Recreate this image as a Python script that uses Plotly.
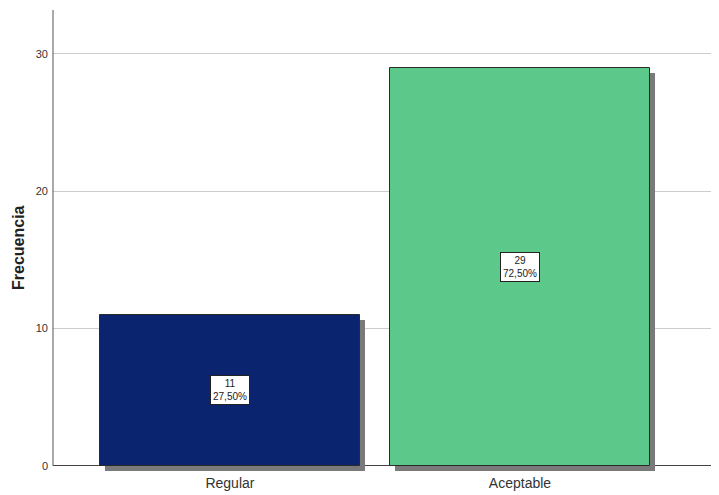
import plotly.graph_objects as go

categories = ["Regular", "Aceptable"]
frecuencias = [11, 29]
porcentajes = ["27,50%", "72,50%"]
colores = ["#0B2470", "#5CC98A"]
y_ticks = [0, 10, 20, 30]

x_pos = list(range(len(categories)))
# the page body has an 8px margin, so the figure is sized to fit the window
W, H = 711, 487
ml, mr, mt, mb = 45, 0, 2, 23
ymax = 33.2
ymin = -0.45
plot_h = H - mt - mb
plot_w = W - ml - mr
xr = [-0.61, 1.686]
px_per_y = plot_h / (ymax - ymin)
px_per_x = plot_w / (xr[1] - xr[0])
bw = 0.897
sh = 5  # shadow offset in px

font_fam = "Liberation Sans Narrow, Arial Narrow, Liberation Sans, Arial, sans-serif"

fig = go.Figure()
# shadows
fig.add_trace(go.Bar(
    x=x_pos, y=frecuencias, base=-sh / px_per_y, width=bw,
    offset=-bw / 2 + sh / px_per_x,
    marker=dict(color="#7a7a7a", line=dict(width=0)),
    hoverinfo="skip", showlegend=False))
# bars
fig.add_trace(go.Bar(
    x=x_pos, y=frecuencias, width=bw, offset=-bw / 2,
    marker=dict(color=colores, line=dict(color="#2a2a2a", width=1)),
    showlegend=False))

for xi, v, p in zip(x_pos, frecuencias, porcentajes):
    fig.add_annotation(x=xi, y=v / 2, text=f"{v}<br>{p}", showarrow=False,
                       font=dict(family=font_fam, size=10, color="#222"),
                       bgcolor="white", bordercolor="#222", borderwidth=1,
                       borderpad=2)

# axis title
fig.add_annotation(xref="paper", yref="paper", x=-(ml - 10) / plot_w,
                   y=(H - mb - 240) / plot_h, text="<b>Frecuencia</b>",
                   textangle=-90, showarrow=False, xanchor="center",
                   yanchor="middle",
                   font=dict(family="Liberation Sans, Arial, sans-serif",
                             size=16, color="#222"))

# y-axis line from 0 to top
fig.add_shape(type="line", xref="paper", yref="y", x0=0, x1=0, y0=0, y1=ymax,
              line=dict(color="#555", width=1))

fig.update_layout(
    width=W, height=H,
    margin=dict(l=ml, r=mr, t=mt, b=mb, autoexpand=False),
    plot_bgcolor="white", paper_bgcolor="white",
    bargap=0, barmode="overlay",
    xaxis=dict(range=xr, tickvals=x_pos, ticktext=categories, showgrid=False,
               zeroline=False, showline=False, ticks="", automargin=False,
               ticklabelstandoff=1,
               tickfont=dict(family=font_fam, size=14, color="#333")),
    yaxis=dict(range=[ymin, ymax], tickvals=y_ticks, showgrid=True,
               gridcolor="#cccccc", gridwidth=1, zeroline=True,
               zerolinecolor="#444", zerolinewidth=1, showline=False, ticks="",
               ticklabelstandoff=4, automargin=False,
               tickfont=dict(family=font_fam, size=11, color="#333")),
)

fig.write_html("out.html")
